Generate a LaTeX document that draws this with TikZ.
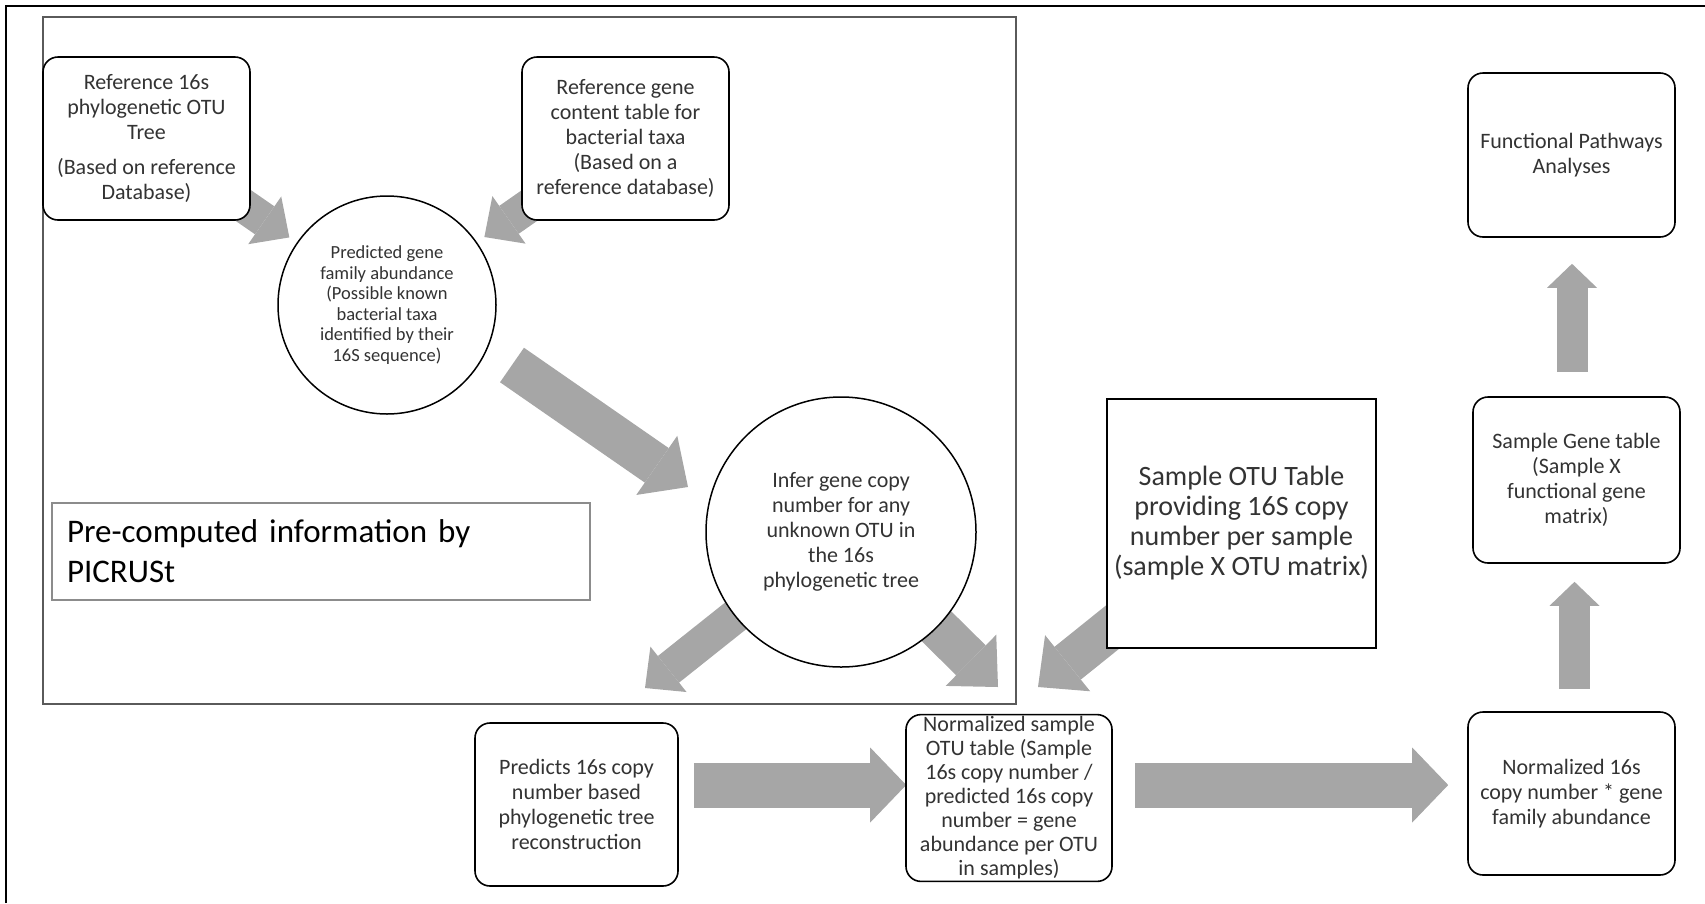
\documentclass[tikz,border=0pt]{standalone}
\usepackage{fontspec}
\setmainfont{Carlito}
\usetikzlibrary{arrows.meta,backgrounds}

\definecolor{arrowgrey}{HTML}{A6A6A6}
\definecolor{framegrey}{HTML}{5A5A5A}
\definecolor{labelgrey}{HTML}{8C8C8C}
\definecolor{textgrey}{HTML}{333333}

\tikzset{
    roundbox/.style={draw, line width=1.6pt, rounded corners=15pt, fill=white, align=center,
        text=textgrey, inner sep=2pt, minimum width=207pt, minimum height=163pt,
        font=\fontsize{22}{25}\selectfont},
    bubble/.style={draw, circle, line width=1.5pt, fill=white, align=center,
        text=textgrey, inner sep=0pt},
    blockarrow/.style n args={3}{arrowgrey, line width=#1,
        -{Triangle[width=#2, length=#3, line width=0pt]}}
}

\begin{document}
\begin{tikzpicture}[x=1pt, y=-1pt]
        \useasboundingbox (0,0) rectangle (1705,903);
        %\draw[gray, dashed, step=100] (0,0) grid (1705,903);

        \draw[line width=2.5pt] (6,903) -- (6,6) -- (1705,6);
        \draw[framegrey, line width=2.5pt] (43,17) rectangle (1016,704);

        % pre-computed part
        \node[roundbox] (ref16s) at (146.5,138.5) {Reference 16s\\phylogenetic OTU\\Tree\\[10pt](Based on reference\\Database)};
        \node[roundbox] (refgene) at (625.5,138.5) {Reference gene\\content table for\\bacterial taxa\\(Based on a\\reference database)};
        \node[bubble, minimum size=218pt, font=\fontsize{18.5}{20.5}\selectfont] (famabund) at (387,305)
            {Predicted gene\\family abundance\\(Possible known\\bacterial taxa\\identified by their\\16S sequence)};
        \node[bubble, minimum size=270pt, font=\fontsize{22}{25}\selectfont] (infer) at (841,532)
            {Infer gene copy\\number for any\\unknown OTU in\\the 16s\\phylogenetic tree};
        \node[draw=labelgrey, line width=1.5pt, text width=508pt, inner sep=15pt, minimum height=97pt,
            align=left, font=\fontsize{33}{40}\selectfont] (picrust) at (321,551.5)
            {Pre-computed information by\\PICRUSt};

        % sample part
        \node[draw, line width=1.8pt, fill=white, minimum width=269pt, minimum height=249pt, align=center,
            text=textgrey, font=\fontsize{28}{30}\selectfont] (otutab) at (1241.5,523.5)
            {Sample OTU Table\\providing 16S copy\\number per sample\\(sample X OTU matrix)};
        \node[roundbox, minimum width=203pt] (predcopy) at (576.5,804.5) {Predicts 16s copy\\number based\\phylogenetic tree\\reconstruction};
        \node[roundbox, minimum width=206pt, minimum height=166pt, font=\fontsize{22}{24}\selectfont] (normotu) at (1009,798)
            {Normalized sample\\OTU table (Sample\\16s copy number /\\predicted 16s copy\\number = gene\\abundance per OTU\\in samples)};
        \node[roundbox] (normgene) at (1571.5,793.5) {Normalized 16s\\copy number * gene\\family abundance};
        \node[roundbox, minimum height=166pt] (genetab) at (1576.5,480) {Sample Gene table\\(Sample X\\functional gene\\matrix)};
        \node[roundbox, minimum height=164pt] (pathways) at (1571.5,155) {Functional Pathways\\Analyses};

        \coordinate (bigtail) at (512,365);
        \coordinate (bigtip) at (688,487);
        \coordinate (lefttip) at (645,688);
        \coordinate (righttip) at (998,687);
        \coordinate (sampletip) at (1038,687);

        \begin{scope}[on background layer]
            \draw[blockarrow={34pt}{58pt}{30pt}, shorten >=9pt] (ref16s.center) -- (famabund);
            \draw[blockarrow={34pt}{58pt}{30pt}, shorten >=9pt] (refgene.center) -- (famabund);
            \draw[blockarrow={42pt}{72pt}{38pt}] (bigtail) -- (bigtip);
            \draw[blockarrow={34pt}{58pt}{30pt}] (infer.center) -- (lefttip);
            \draw[blockarrow={42pt}{72pt}{38pt}] (infer.center) -- (righttip);
            \draw[blockarrow={42pt}{72pt}{38pt}] (otutab.center) -- (sampletip);

            \draw[blockarrow={45pt}{75pt}{36pt}] ([xshift=15pt, yshift=19.5pt]predcopy.east) -- ([xshift=1pt, yshift=13pt]normotu.west);
            \draw[blockarrow={45pt}{75pt}{36pt}] ([xshift=22pt, yshift=13pt]normotu.east) -- ([xshift=-19pt, yshift=8.5pt]normgene.west);
            \draw[blockarrow={31pt}{50pt}{24pt}] ([xshift=3pt, yshift=22pt]normgene.north) -- ([xshift=-2pt, yshift=-18pt]genetab.south);
            \draw[blockarrow={31pt}{50pt}{24pt}] ([xshift=-4.5pt, yshift=24pt]genetab.north) -- ([xshift=0.5pt, yshift=-26pt]pathways.south);
        \end{scope}
    \end{tikzpicture}
\end{document}
